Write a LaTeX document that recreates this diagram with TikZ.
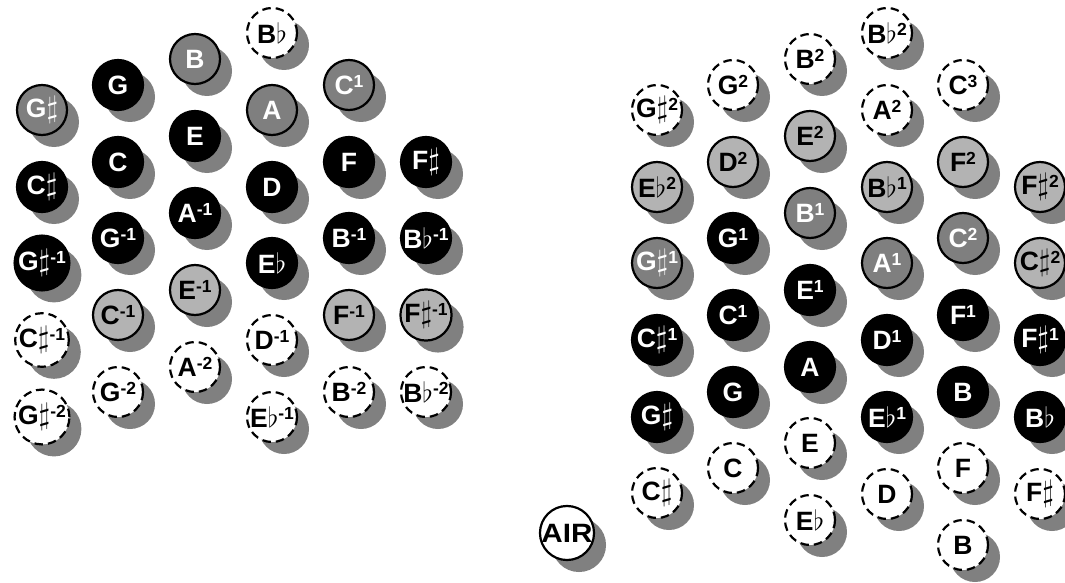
\RequirePackage{fix-cm}
\documentclass[tikz,border=0pt]{standalone}
\usepackage{fontspec}
\usepackage{graphicx}
\usetikzlibrary{shadows}
\newfontfamily\labf{Liberation Sans}
\newcommand\hi[1]{\raisebox{7.5pt}{\fontsize{17.5}{17.5}\selectfont #1}}
\newcommand\shp{\scalebox{1.15}{$\sharp$}}
\newcommand\flt{\scalebox{1.05}{$\flat$}}
\definecolor{shadowgray}{HTML}{808080}
\definecolor{darkfill}{HTML}{7F7F7F}
\definecolor{lightfill}{HTML}{B3B3B3}
\tikzset{
  btn/.style={circle, minimum size=50pt, inner sep=0pt, line width=2.2pt,
    font=\labf\bfseries\fontsize{26.5}{26.5}\selectfont,
    drop shadow={shadow xshift=12pt, shadow yshift=-12pt, fill=shadowgray, opacity=1}},
  blk/.style={btn, fill=black, draw=black, text=white},
  dgr/.style={btn, fill=darkfill, draw=black, text=white},
  lgr/.style={btn, fill=lightfill, draw=black, text=black},
  dsh/.style={btn, fill=white, draw=black, text=black, dash pattern=on 8.5pt off 5pt},
  air/.style={btn, fill=white, draw=black, text=black},
}
\begin{document}
\begin{tikzpicture}[x=1pt, y=-1pt]
\useasboundingbox (0,0) rectangle (1065,583);
% ---- left keyboard ----
\node[dgr] (l-Gs)  at (42,110) {G\shp};
\node[blk] (l-Cs)  at (42,187) {C\shp};
\node[blk] (l-Gsm1) at (42,263) {G\shp\hi{-1}};
\node[dsh] (l-Csm1) at (42,340) {C\shp\hi{-1}};
\node[dsh] (l-Gsm2) at (42,417) {G\shp\hi{-2}};
\node[blk] (l-G)   at (118,85) {G};
\node[blk] (l-C)   at (118,162) {C};
\node[blk] (l-Gm1) at (118,238) {G\hi{-1}};
\node[lgr] (l-Cm1) at (118,315) {C\hi{-1}};
\node[dsh] (l-Gm2) at (118,392) {G\hi{-2}};
\node[dgr] (l-B)   at (195,59) {B};
\node[blk] (l-E)   at (195,136) {E};
\node[blk] (l-Am1) at (195,213) {A\hi{-1}};
\node[lgr] (l-Em1) at (195,290) {E\hi{-1}};
\node[dsh] (l-Am2) at (195,367) {A\hi{-2}};
\node[dsh] (l-Bb)  at (272,33) {B\flt};
\node[dgr] (l-A)   at (272,110) {A};
\node[blk] (l-D)   at (272,187) {D};
\node[blk] (l-Eb)  at (272,263) {E\flt};
\node[dsh] (l-Dm1) at (272,340) {D\hi{-1}};
\node[dsh] (l-Ebm1) at (272,417) {E\flt\hi{-1}};
\node[dgr] (l-C1)  at (349,85) {C\hi{1}};
\node[blk] (l-F)   at (349,162) {F};
\node[blk] (l-Bm1) at (349,238) {B\hi{-1}};
\node[lgr] (l-Fm1) at (349,315) {F\hi{-1}};
\node[dsh] (l-Bm2) at (349,392) {B\hi{-2}};
\node[blk] (l-Fs)  at (426,162) {F\shp};
\node[blk] (l-Bbm1) at (426,238) {B\flt\hi{-1}};
\node[lgr] (l-Fsm1) at (426,315) {F\shp\hi{-1}};
\node[dsh] (l-Bbm2) at (426,392) {B\flt\hi{-2}};
% ---- right keyboard ----
\node[dsh] (r-Gs2) at (657,110) {G\shp\hi{2}};
\node[lgr] (r-Eb2) at (657,187) {E\flt\hi{2}};
\node[dgr] (r-Gs1) at (657,263) {G\shp\hi{1}};
\node[blk] (r-Cs1) at (657,340) {C\shp\hi{1}};
\node[blk] (r-Gs)  at (657,417) {G\shp};
\node[dsh] (r-Cs)  at (657,493) {C\shp};
\node[dsh] (r-G2)  at (733,85) {G\hi{2}};
\node[lgr] (r-D2)  at (733,162) {D\hi{2}};
\node[blk] (r-G1)  at (733,238) {G\hi{1}};
\node[blk] (r-C1)  at (733,315) {C\hi{1}};
\node[blk] (r-G)   at (733,392) {G};
\node[dsh] (r-C)   at (733,468) {C};
\node[dsh] (r-B2)  at (810,59) {B\hi{2}};
\node[lgr] (r-E2)  at (810,136) {E\hi{2}};
\node[dgr] (r-B1)  at (810,213) {B\hi{1}};
\node[blk] (r-E1)  at (810,290) {E\hi{1}};
\node[blk] (r-A)   at (810,367) {A};
\node[dsh] (r-E)   at (810,443) {E};
\node[dsh] (r-Eb)  at (810,520) {E\flt};
\node[dsh] (r-Bb2) at (887,33) {B\flt\hi{2}};
\node[dsh] (r-A2)  at (887,110) {A\hi{2}};
\node[lgr] (r-Bb1) at (887,187) {B\flt\hi{1}};
\node[dgr] (r-A1)  at (887,263) {A\hi{1}};
\node[blk] (r-D1)  at (887,340) {D\hi{1}};
\node[blk] (r-Eb1) at (887,417) {E\flt\hi{1}};
\node[dsh] (r-D)   at (887,494) {D};
\node[dsh] (r-C3)  at (963,85) {C\hi{3}};
\node[lgr] (r-F2)  at (963,162) {F\hi{2}};
\node[dgr] (r-C2)  at (963,238) {C\hi{2}};
\node[blk] (r-F1)  at (963,315) {F\hi{1}};
\node[blk] (r-B)   at (963,392) {B};
\node[dsh] (r-F)   at (963,468) {F};
\node[dsh] (r-Bl)  at (963,545) {B};
\node[lgr] (r-Fs2) at (1040,187) {F\shp\hi{2}};
\node[lgr] (r-Cs2) at (1040,263) {C\shp\hi{2}};
\node[blk] (r-Fs1) at (1040,340) {F\shp\hi{1}};
\node[blk] (r-Bb)  at (1040,417) {B\flt};
\node[dsh] (r-Fs)  at (1040,494) {F\shp};
\node[air] (air)   at (567,533) {\scalebox{1.12}[1]{AIR}};
\end{tikzpicture}
\end{document}
